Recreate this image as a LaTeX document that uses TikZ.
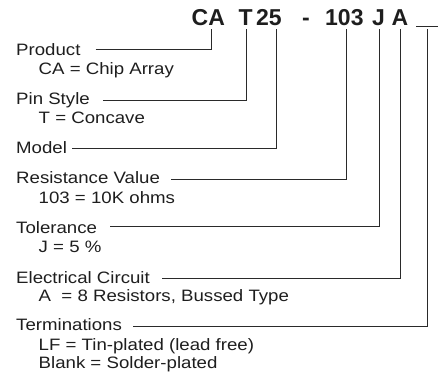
\documentclass[tikz,border=0pt]{standalone}
\usepackage{fontspec}
\usepackage{graphicx}
\setmainfont{Liberation Sans}
\usetikzlibrary{calc}
\definecolor{ink}{HTML}{1E1E1E}
\definecolor{wirec}{HTML}{2A2A2A}
\newcommand\wx[1]{\scalebox{1.13}[1]{#1}}
\begin{document}
\begin{tikzpicture}[x=1pt,y=-1pt,
  code/.style={anchor=base west, inner sep=0pt, font=\fontsize{23}{26}\bfseries\selectfont, text=ink},
  lbl/.style={anchor=base west, inner sep=0pt, font=\fontsize{16.5}{19}\selectfont, text=ink},
  wire/.style={draw=wirec, line width=1pt}]
\useasboundingbox (0,0) rectangle (438,376);
% part number
\node[code] (cCA)   at (191.5,25) {CA};
\node[code] (cT)    at (238.5,25) {T};
\node[code] (c25)   at (256,25) {25};
\node[code] (cdash) at (302,25) {-};
\node[code] (c103)  at (325,25) {103};
\node[code] (cJ)    at (372,25) {J};
\node[code] (cA)    at (391.5,25) {A};
\coordinate (bL) at (416,26.7);
\coordinate (bR) at (437.5,26.7);
\draw[wire] (bL) -- (bR);
% connector tops
\coordinate (tCA)  at (211,28.5);
\coordinate (tT)   at (246,28.5);
\coordinate (t25)  at (276,28.5);
\coordinate (t103) at (346,28.5);
\coordinate (tJ)   at (379,28.5);
\coordinate (tA)   at (400.5,28.5);
\coordinate (tB)   at (427.5,28.5);
% labels
\node[lbl] (hProd) at (16,55) {\wx{Product}};
\node[lbl] (dProd) at (38.5,74) {\wx{CA = Chip Array}};
\node[lbl] (hPin)  at (16,104) {\wx{Pin Style}};
\node[lbl] (dPin)  at (38.5,123) {\wx{T = Concave}};
\node[lbl] (hMod)  at (16,153) {\wx{Model}};
\node[lbl] (hRes)  at (16,183.5) {\wx{Resistance Value}};
\node[lbl] (dRes)  at (38.5,203) {\wx{103 = 10K ohms}};
\node[lbl] (hTol)  at (16,233) {\wx{Tolerance}};
\node[lbl] (dTol)  at (38.5,252) {\wx{J = 5 \%}};
\node[lbl] (hEC)   at (16,283) {\wx{Electrical Circuit}};
\node[lbl] (dEC)   at (38.5,301) {\wx{A\ \ = 8 Resistors, Bussed Type}};
\node[lbl] (hTer)  at (16,330.5) {\wx{Terminations}};
\node[lbl] (dTer1) at (38.5,350) {\wx{LF = Tin-plated (lead free)}};
\node[lbl] (dTer2) at (38.5,368) {\wx{Blank = Solder-plated}};
% connectors
\draw[wire] ($(hProd.base east)+(15,-6)$) -| (tCA);
\draw[wire] ($(hPin.base east)+(13,-3.5)$) -| (tT);
\draw[wire] ($(hMod.base east)+(5,-5)$) -| (t25);
\draw[wire] ($(hRes.base east)+(11,-4)$) -| (t103);
\draw[wire] ($(hTol.base east)+(13,-6.5)$) -| (tJ);
\draw[wire] ($(hEC.base east)+(12,-5)$) -| (tA);
\draw[wire] ($(hTer.base east)+(11,-4.5)$) -| (tB);
\end{tikzpicture}
\end{document}
